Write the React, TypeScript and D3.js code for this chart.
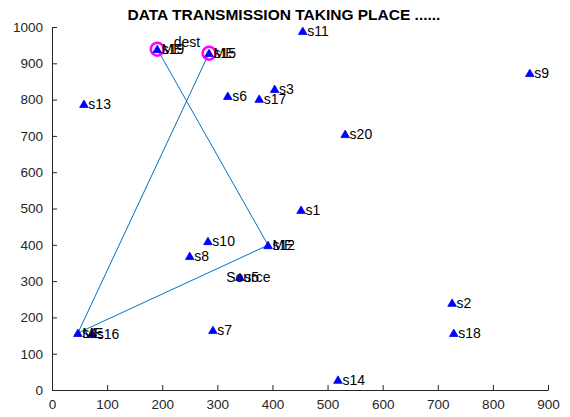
import React, { useRef, useEffect } from 'react';
import * as d3 from 'd3';

// sensor nodes s1..s20
const nodeNames = ['s1', 's2', 's3', 's4', 's5', 's6', 's7', 's8', 's9', 's10', 's11', 's12', 's13', 's14', 's15', 's16', 's17', 's18', 's19', 's20'];
const nodeX = [452, 726, 404, 47, 341, 319, 292, 250, 867, 283, 455, 392, 58, 519, 285, 73, 376, 729, 191, 532];
const nodeY = [496, 240, 829, 157, 311, 810, 165, 369, 873, 410, 989, 399, 788, 28, 928, 154, 802, 157, 939, 705];

// route of the packet (node numbers)
const route = [19, 12, 4, 15];
const meNodes = [19, 15, 12, 4];
const circled = [19, 15];
const sourceNode = 5;
const destNode = 19;

const xTicks = [0, 100, 200, 300, 400, 500, 600, 700, 800, 900];
const yTicks = [0, 100, 200, 300, 400, 500, 600, 700, 800, 900, 1000];

export default function App() {
    const svgRef = useRef<SVGSVGElement>(null);

    useEffect(() => {
        if (!svgRef.current) return;
        const width = 570;
        const height = 417;
        const margin = { top: 27, right: 22, bottom: 27, left: 52 };

        const svg = d3.select(svgRef.current)
            .attr('width', width)
            .attr('height', height);
        svg.selectAll('*').remove();

        const x = d3.scaleLinear().domain([0, 900]).range([margin.left, width - margin.right]);
        const y = d3.scaleLinear().domain([0, 1000]).range([height - margin.bottom, margin.top]);
        const font = 'Liberation Sans, Arial, sans-serif';

        // axes (MATLAB style, ticks inward)
        const xAxis = svg.append('g')
            .attr('transform', `translate(0,${y(0)})`)
            .call(d3.axisBottom(x).tickValues(xTicks).tickFormat(d3.format('d')).tickSize(-5).tickPadding(9).tickSizeOuter(0));
        const yAxis = svg.append('g')
            .attr('transform', `translate(${x(0)},0)`)
            .call(d3.axisLeft(y).tickValues(yTicks).tickFormat(d3.format('d')).tickSize(-5).tickPadding(9).tickSizeOuter(0));
        [xAxis, yAxis].forEach(a => {
            a.attr('color', '#262626');
            a.selectAll('text').attr('font-family', font).attr('font-size', '13.5px').attr('fill', '#262626');
            a.select('.domain').attr('stroke-width', 1);
        });

        const px = (n: number) => x(nodeX[n - 1]);
        const py = (n: number) => y(nodeY[n - 1]);

        // route lines
        const line = d3.line<number>().x(n => px(n)).y(n => py(n));
        svg.append('path')
            .datum(route)
            .attr('fill', 'none')
            .attr('stroke', '#0072BD')
            .attr('stroke-width', 1)
            .attr('d', line);

        // magenta circles
        svg.selectAll('circle.hl')
            .data(circled)
            .enter().append('circle')
            .attr('cx', n => px(n))
            .attr('cy', n => py(n))
            .attr('r', 6.5)
            .attr('fill', 'none')
            .attr('stroke', '#FF00FF')
            .attr('stroke-width', 2.5);

        // nodes
        const tri = d3.symbol().type(d3.symbolTriangle).size(32);
        svg.selectAll('path.node')
            .data(nodeNames)
            .enter().append('path')
            .attr('transform', (_, i) => `translate(${x(nodeX[i])},${y(nodeY[i]) + 1})`)
            .attr('d', tri)
            .attr('fill', '#0000FF')
            .attr('stroke', '#0000FF')
            .attr('stroke-width', 0.8);

        const label = (xv: number, yv: number, t: string) =>
            svg.append('text')
                .attr('x', x(xv))
                .attr('y', y(yv))
                .attr('dy', '0.35em')
                .attr('font-family', font)
                .attr('font-size', '14px')
                .attr('fill', '#000')
                .text(t);

        nodeNames.forEach((nm, i) => label(nodeX[i] + 8, nodeY[i], nm));
        meNodes.forEach(n => label(nodeX[n - 1] + 8, nodeY[n - 1], 'ME'));
        label(nodeX[sourceNode - 1] - 25, nodeY[sourceNode - 1], 'Source');
        label(nodeX[destNode - 1] + 30, nodeY[destNode - 1] + 20, 'dest');

        // title
        svg.append('text')
            .attr('x', 284)
            .attr('y', 20)
            .attr('text-anchor', 'middle')
            .attr('font-family', font)
            .attr('font-size', '15.5px')
            .attr('font-weight', 'bold')
            .attr('fill', '#000')
            .text('DATA TRANSMISSION TAKING PLACE ......');
    }, []);

    return <svg ref={svgRef} style={{ position: 'absolute', left: 0, top: 0, background: '#fff' }} />;
}
